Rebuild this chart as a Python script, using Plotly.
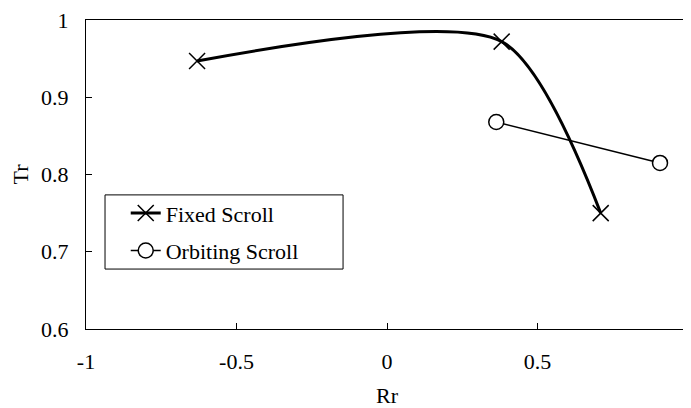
import plotly.graph_objects as go

fixed_rr = [-0.631, 0.381, 0.710]
fixed_tr = [0.947, 0.972, 0.750]
orbit_rr = [0.363, 0.907]
orbit_tr = [0.868, 0.815]

x_ticks = [-1, -0.5, 0, 0.5, 1]
x_tick_labels = ["-1", "-0.5", "0", "0.5", "1"]
y_ticks = [0.6, 0.7, 0.8, 0.9, 1.0]
y_tick_labels = ["0.6", "0.7", "0.8", "0.9", "1"]

font_family = "Liberation Serif"
fs = 22

fig = go.Figure()
fig.add_trace(go.Scatter(
    x=fixed_rr, y=fixed_tr, name="Fixed Scroll", mode="lines+markers", legendgroup="a",
    line=dict(color="black", width=3, shape="spline", smoothing=0.75),
    marker=dict(symbol="x-thin", size=16, line=dict(color="black", width=1.5)),
))
fig.add_trace(go.Scatter(
    x=orbit_rr, y=orbit_tr, name="Orbiting Scroll", mode="lines+markers", legendgroup="b",
    line=dict(color="black", width=1.5),
    marker=dict(symbol="circle", size=15, color="white", line=dict(color="black", width=1.5)),
))

axis_common = dict(
    showgrid=False, zeroline=False, showline=True, linecolor="black", linewidth=1.2,
    mirror=True, ticks="inside", ticklen=6, tickcolor="black", tickwidth=1,
    tickfont=dict(family=font_family, size=fs, color="black"),
    automargin=False, ticklabeloverflow="allow",
)
fig.update_xaxes(range=[-1, 1], tickvals=x_ticks, ticktext=x_tick_labels,
                 title=dict(text="Rr", font=dict(family=font_family, size=fs, color="black"), standoff=17),
                 ticklabelstandoff=12, **axis_common)
fig.update_yaxes(range=[0.6, 1.0], tickvals=y_ticks, ticktext=y_tick_labels,
                 title=dict(text="Tr", font=dict(family=font_family, size=fs, color="black"), standoff=13),
                 ticklabelstandoff=12, **axis_common)

fig.add_shape(type="rect", xref="paper", yref="paper", x0=0.0316, x1=0.427, y0=0.194, y1=0.434,
              line=dict(color="black", width=1), fillcolor="white", layer="below")

fig.update_layout(
    width=683, height=400,
    margin=dict(l=78, r=3, t=12, b=79),
    plot_bgcolor="white", paper_bgcolor="white",
    font=dict(family=font_family, size=fs, color="black"),
    showlegend=True,
    legend=dict(x=0.066, y=0.443, xanchor="left", yanchor="top",
                bgcolor="rgba(0,0,0,0)", borderwidth=0,
                font=dict(family=font_family, size=fs, color="black"),
                tracegroupgap=6),
)

fig.write_html("out.html")
